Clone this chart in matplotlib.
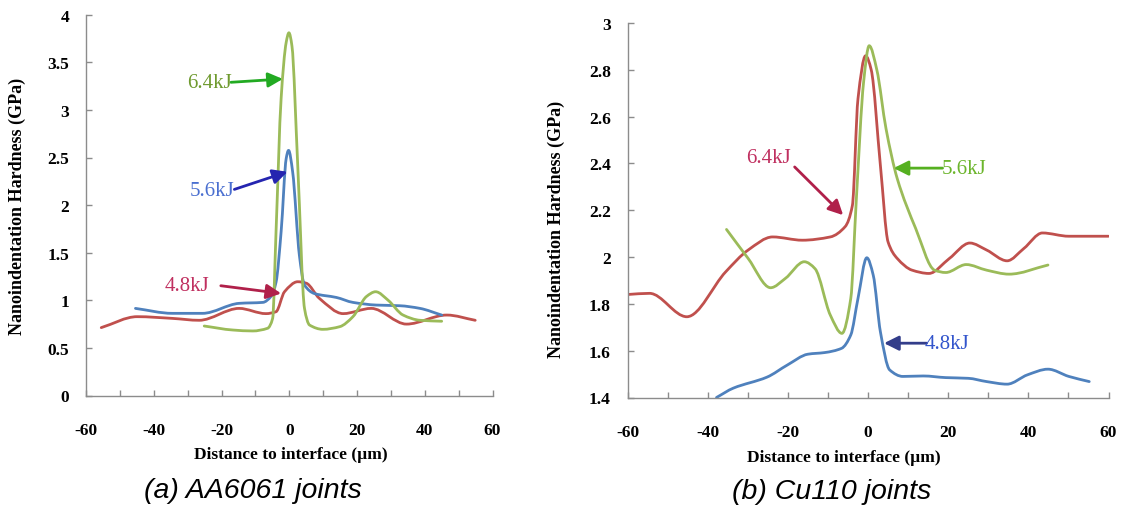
import matplotlib
matplotlib.use("Agg")
import matplotlib.pyplot as plt
from matplotlib.ticker import MultipleLocator
from matplotlib.path import Path
from matplotlib.patches import PathPatch

plt.rcParams["axes.unicode_minus"] = False

# (a) AA6061 joints
a_red_x = [-55.5, -44.9, -34.5, -26.6, -14.8, -6.9, -3.9, -1.4, 2.5, 5.0, 8.9, 15.9, 24.2, 34.6, 46.5, 54.9]
a_red_y = [0.713, 0.828, 0.81, 0.79, 0.915, 0.86, 0.88, 1.09, 1.195, 1.18, 1.02, 0.86, 0.915, 0.75, 0.845, 0.79]

a_blue_x = [-45.4, -34.5, -25.6, -14.8, -7.8, -5.4, -3.9, -2.4, -0.9, -0.2, 1.0, 3.0, 4.5, 7.5, 13.9, 18.8,
            25.7, 32.6, 38.6, 45.0]
a_blue_y = [0.915, 0.863, 0.863, 0.968, 0.978, 1.04, 1.19, 1.72, 2.49, 2.575, 2.35, 1.47, 1.16, 1.07, 1.03, 0.978,
            0.95, 0.943, 0.915, 0.845]

a_green_x = [-25.1, -16.7, -10.8, -6.4, -4.9, -3.9, -2.4, -0.9, -0.1, 0.8, 2.5, 4.5, 6.0, 9.9, 14.9, 18.8,
             22.8, 25.5, 29.2, 33.6, 38.6, 45.0]
a_green_y = [0.73, 0.688, 0.678, 0.706, 0.81, 1.72, 3.12, 3.71, 3.81, 3.67, 2.42, 0.915, 0.74, 0.695, 0.723, 0.828,
             1.04, 1.09, 1.0, 0.845, 0.79, 0.78]

# (b) Cu110 joints
b_red_x = [-60, -54.5, -45.2, -35.5, -29.9, -23.8, -16.4, -9.4, -5.7, -3.9, -2.5, -0.6, 0.8, 3.1, 5.0, 7.3,
           11.0, 15.2, 20.3, 25.4, 29.6, 34.7, 38.9, 43.5, 50.1, 60]
b_red_y = [1.84, 1.845, 1.745, 1.937, 2.03, 2.086, 2.072, 2.086, 2.13, 2.22, 2.676, 2.86, 2.80, 2.39, 2.065, 1.994,
           1.944, 1.93, 1.994, 2.06, 2.03, 1.984, 2.037, 2.103, 2.089, 2.089]

b_green_x = [-35.3, -29.9, -24.3, -20.6, -15.9, -13.2, -9.4, -6.5, -4.3, -2.9, -1.1, 0.3, 2.2, 4.5, 7.3, 11.9,
             16.6, 19.4, 24.5, 29.6, 35.2, 44.9]
b_green_y = [2.118, 1.994, 1.869, 1.909, 1.98, 1.95, 1.752, 1.674, 1.823, 2.25, 2.747, 2.903, 2.80, 2.548, 2.335,
             2.122, 1.944, 1.934, 1.968, 1.944, 1.927, 1.966]

b_blue_x = [-37.8, -33.6, -25.2, -20.1, -15.0, -10.8, -6.6, -4.3, -2.5, -0.3, 1.3, 3.1, 5.4, 8.7, 13.8, 19.4,
            25.0, 29.6, 34.7, 39.8, 44.9, 50.1, 55.2]
b_blue_y = [1.40, 1.44, 1.487, 1.539, 1.585, 1.592, 1.61, 1.667, 1.823, 1.997, 1.923, 1.68, 1.518, 1.49, 1.492,
            1.485, 1.482, 1.468, 1.457, 1.497, 1.521, 1.49, 1.468]

x_ticks = [-60, -40, -20, 0, 20, 40, 60]
a_y_ticks = [0, 0.5, 1, 1.5, 2, 2.5, 3, 3.5, 4]
a_y_labels = ["0", "0.5", "1", "1.5", "2", "2.5", "3", "3.5", "4"]
b_y_ticks = [1.4, 1.6, 1.8, 2.0, 2.2, 2.4, 2.6, 2.8, 3.0]
b_y_labels = ["1.4", "1.6", "1.8", "2", "2.2", "2.4", "2.6", "2.8", "3"]

BLUE = "#4f81bd"
RED = "#c0504d"
GREEN = "#9bbb59"
SERIF = "Liberation Serif"

W, H = 1124, 510
fig = plt.figure(figsize=(W / 100, H / 100), dpi=100)


def px_axes(x0, x1, y_top, y_bot):
    return fig.add_axes([x0 / W, (H - y_bot) / H, (x1 - x0) / W, (y_bot - y_top) / H])


def smooth_line(ax, xs, ys, color):
    # smoothed line like excel: hermite segments as cubic bezier, pchip style slopes
    n = len(xs)
    sec = [(ys[i + 1] - ys[i]) / (xs[i + 1] - xs[i]) for i in range(n - 1)]
    m = [sec[0]]
    for i in range(1, n - 1):
        a, b = sec[i - 1], sec[i]
        m.append(0.0 if a * b <= 0 else 2 * a * b / (a + b))
    m.append(sec[-1])
    verts = [(xs[0], ys[0])]
    codes = [Path.MOVETO]
    for i in range(n - 1):
        h = (xs[i + 1] - xs[i]) / 3
        verts += [(xs[i] + h, ys[i] + m[i] * h),
                  (xs[i + 1] - h, ys[i + 1] - m[i + 1] * h),
                  (xs[i + 1], ys[i + 1])]
        codes += [Path.CURVE4] * 3
    ax.add_patch(PathPatch(Path(verts, codes), fill=False, edgecolor=color, lw=2.0,
                           capstyle="round", joinstyle="round"))


def style_axes(ax, y_ticks, y_labels, ylim):
    ax.set_xlim(-60, 60)
    ax.set_ylim(*ylim)
    for s in ["top", "right"]:
        ax.spines[s].set_visible(False)
    for s in ["left", "bottom"]:
        ax.spines[s].set_color("#8c8c8c")
        ax.spines[s].set_linewidth(1.0)
    ax.set_xticks(x_ticks)
    ax.xaxis.set_minor_locator(MultipleLocator(10))
    ax.set_yticks(y_ticks)
    ax.set_yticklabels(y_labels)
    ax.tick_params(axis="both", which="both", direction="in", length=4, width=1.0, color="#8c8c8c")
    ax.tick_params(axis="x", which="major", pad=19)
    ax.tick_params(axis="y", which="major", pad=12)
    for lab in ax.get_xticklabels() + ax.get_yticklabels():
        lab.set_fontfamily(SERIF)
        lab.set_fontweight("bold")
        lab.set_fontsize(12.5)


def arrow(ax, text, xy, xytext, tcolor, acolor, tx, ty, ha="center"):
    ax.annotate("", xy=xy, xytext=xytext,
                arrowprops=dict(arrowstyle="-|>", color=acolor, lw=2.0, mutation_scale=22,
                                shrinkA=0, shrinkB=0))
    ax.text(tx, ty, text, color=tcolor, fontsize=15, family=SERIF, ha=ha, va="center")


# ---- panel (a) ----
ax1 = px_axes(86, 492.5, 15.7, 396.5)
smooth_line(ax1, a_red_x, a_red_y, RED)
smooth_line(ax1, a_blue_x, a_blue_y, BLUE)
smooth_line(ax1, a_green_x, a_green_y, GREEN)
style_axes(ax1, a_y_ticks, a_y_labels, (0, 4))

arrow(ax1, "6.4kJ", (-1.9, 3.325), (-17.2, 3.29), "#6f9a2f", "#22aa22", -23.6, 3.29)
arrow(ax1, "5.6kJ", (-0.5, 2.35), (-16.2, 2.165), "#4a6fd0", "#2525b0", -22.7, 2.155)
arrow(ax1, "4.8kJ", (-2.4, 1.072), (-20.2, 1.153), "#c03060", "#b0204a", -30.1, 1.16)

# ---- panel (b) ----
ax2 = px_axes(627.5, 1108.5, 24, 398.5)
smooth_line(ax2, b_red_x, b_red_y, RED)
smooth_line(ax2, b_green_x, b_green_y, GREEN)
smooth_line(ax2, b_blue_x, b_blue_y, BLUE)
style_axes(ax2, b_y_ticks, b_y_labels, (1.4, 3.0))

arrow(ax2, "6.4kJ", (-6.2, 2.179), (-18.3, 2.385), "#c03060", "#b0204a", -24.8, 2.427)
arrow(ax2, "5.6kJ", (6.4, 2.38), (18.6, 2.38), "#6cb52c", "#55b020", 24.0, 2.378)
arrow(ax2, "4.8kJ", (4.0, 1.632), (14.6, 1.632), "#3355cc", "#333d8a", 19.8, 1.632)

# axis titles and captions placed in figure pixels
ytitle = "Nanoindentation Hardness (GPa)"
xtitle = "Distance to interface (\u00b5m)"
fig.text(17.5 / W, 1 - 206 / H, ytitle, rotation=90, ha="center", va="center",
         family=SERIF, fontweight="bold", fontsize=13)
fig.text(556 / W, 1 - 229 / H, ytitle, rotation=90, ha="center", va="center",
         family=SERIF, fontweight="bold", fontsize=13)
fig.text(290.5 / W, 1 - 455 / H, xtitle, ha="center", va="center",
         family=SERIF, fontweight="bold", fontsize=12.5)
fig.text(844 / W, 1 - 458 / H, xtitle, ha="center", va="center",
         family=SERIF, fontweight="bold", fontsize=12.5)
fig.text(253 / W, 1 - 491 / H, "(a) AA6061 joints", ha="center", va="center",
         family="Liberation Sans", style="italic", fontsize=20.5)
fig.text(831.5 / W, 1 - 492 / H, "(b) Cu110 joints", ha="center", va="center",
         family="Liberation Sans", style="italic", fontsize=20.5)

fig.savefig("out.png", dpi=100, facecolor="white")
